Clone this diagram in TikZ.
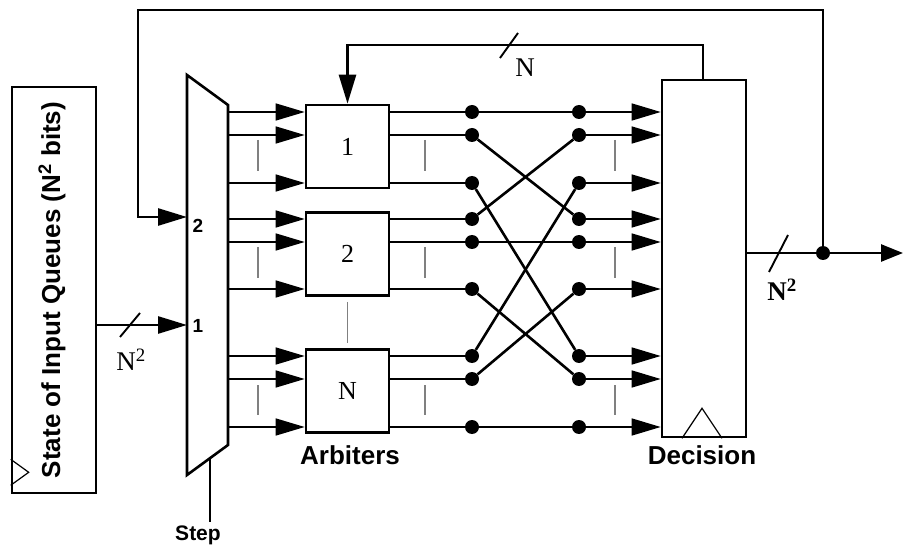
\documentclass[tikz,border=0pt]{standalone}
\usepackage{fontspec}
\setmainfont{Liberation Serif}
\setsansfont{Liberation Sans}
\usetikzlibrary{arrows.meta,positioning}
\tikzset{
  blk/.style={draw,line width=2.6pt,minimum width=83pt,minimum height=83pt,inner sep=0pt,font=\fontsize{26}{26}\selectfont},
  wire/.style={line width=1.4pt},
  bus/.style={line width=2.6pt},
  big/.style={-{Triangle[length=29pt,width=17pt]}},
  dot/.style={circle,fill,inner sep=0pt,minimum size=14pt},
  etc/.style={draw=gray,line width=1.8pt},
  lbl/.style={font=\sffamily\bfseries\fontsize{26}{26}\selectfont},
  muxlbl/.style={font=\sffamily\bfseries\fontsize{19}{19}\selectfont},
  width/.style={font=\fontsize{27}{27}\selectfont},
  slash/.style={line width=1.9pt}
}
\begin{document}
\begin{tikzpicture}[x=1pt,y=-1pt]
\useasboundingbox (0,0) rectangle (903,548);

% input queue state
\node[draw,line width=2.6pt,minimum width=84pt,minimum height=406pt,inner sep=0pt] (queues) at (54,290) {};
\node[lbl,rotate=90] at (52,290) {State of Input Queues (N\textsuperscript{2} bits)};
\draw[line width=1.2pt] (queues.south west) ++(0,-35) -- ++(18,13) -- ++(-18,13);

% mux
\draw[line width=2.6pt] (187,75) -- (228,105) -- (228,445) -- (187,475) -- cycle;
\coordinate (in2) at (187,217);
\coordinate (in1) at (187,325);
\coordinate (steptop) at (210,458);
\node[muxlbl] at (198,226) {2};
\node[muxlbl] at (198,326) {1};
\draw[bus,big] (queues.east |- in1) -- (in1);
\draw[slash] (120,337) -- (140,313);
\node[width] at (131,360) {N\textsuperscript{2}};
\node[font=\sffamily\bfseries\fontsize{21}{21}\selectfont] (step) at (198,535) {Step};
\draw[bus] (steptop) -- (steptop |- step.north);

% arbiters
\node[blk] (arb1) at (347.5,146.5) {1};
\node[blk] (arb2) at (347.5,254) {2};
\node[blk] (arbN) at (347.5,391) {N};
\node[lbl] at (350,455) {Arbiters};

% decision register
\node[draw,line width=2.6pt,minimum width=84pt,minimum height=357pt,inner sep=0pt] (dec) at (704,258.5) {};
\draw[line width=1.2pt] ([xshift=-22pt]dec.south) -- ++(20,-30) -- ++(20,30);
\node[lbl] at (702,455) {Decision};

% rows
\foreach \y [count=\i] in {112,135,183,219,242,289,356,379,427} {
  \coordinate (m\i) at (228,\y);
  \node[dot] (l\i) at (472,\y) {};
  \node[dot] (r\i) at (579,\y) {};
}
\foreach \i/\b in {1/1,2/1,3/1,4/2,5/2,6/2,7/N,8/N,9/N} {
  \draw[wire,big] (m\i) -- (m\i -| arb\b.west);
  \draw[bus] (m\i -| arb\b.east) -- (l\i);
  \draw[wire,big] (r\i) -- (r\i -| dec.west);
}
% transpose
\foreach \a/\b in {1/1,2/4,3/7,4/2,5/5,6/8,7/3,8/6,9/9}
  \draw[bus] (l\a) -- (r\b);

% ellipsis bars
\foreach \t/\u in {140/171,247/278,385/415} {
  \draw[etc] (258,\t) -- (258,\u);
  \draw[etc] (425,\t) -- (425,\u);
  \draw[etc] (615,\t) -- (615,\u);
}
\draw[etc] ([yshift=-5pt]arb2.south) -- ([yshift=5pt]arbN.north);

% output and feedback
\node[dot] (tap) at (823,253) {};
\coordinate (out) at (903,253);
\coordinate (topleft) at (138,10);
\coordinate (fb) at (703,45);
\draw[bus] (dec.east |- tap) -- (tap);
\draw[bus,-{Triangle[length=22pt,width=17pt]}] (tap) -- (out);
\draw[slash] (769,272) -- (788,235);
\node[width,font=\bfseries\fontsize{27}{27}\selectfont] at (782,290) {N\textsuperscript{2}};
\draw[bus,big] (tap) |- (topleft) |- (in2);
\draw[bus,big] (fb |- dec.north) -- (fb) -| (arb1.north);
\draw[slash] (500,58) -- (518,33);
\node[width] at (525,68) {N};
\end{tikzpicture}
\end{document}
